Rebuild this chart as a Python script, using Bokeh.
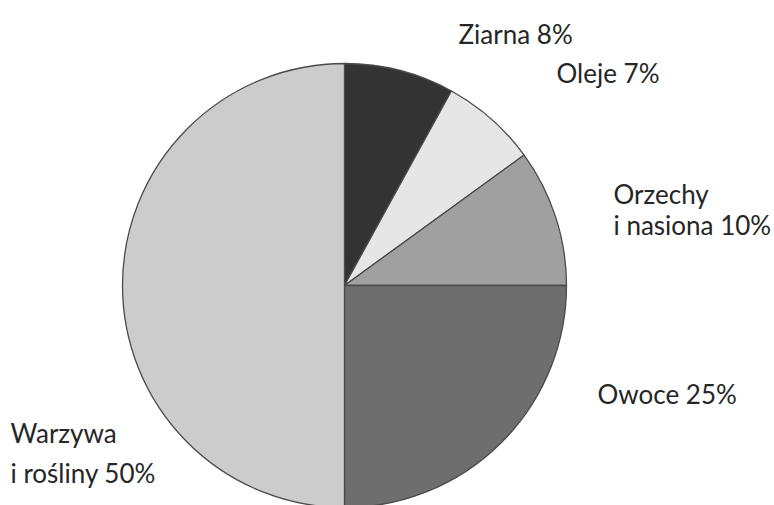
from math import pi
from bokeh.plotting import figure
from bokeh.models import Range1d, ColumnDataSource
from bokeh.core.properties import value
from bokeh.embed import file_html
from bokeh.resources import INLINE

# data
categories = ["Ziarna", "Oleje", "Orzechy i nasiona", "Owoce", "Warzywa i rośliny"]
percents = [8, 7, 10, 25, 50]
colors = ["#333333", "#e6e6e6", "#a0a0a0", "#6e6e6e", "#cccccc"]

W, H = 774, 505
p = figure(width=W, height=H, output_backend="svg", toolbar_location=None,
           x_range=Range1d(0, W), y_range=Range1d(505 - H, 505),
           min_border=0, outline_line_color=None)
p.axis.visible = False
p.grid.visible = False
p.background_fill_color = "white"
p.border_fill_color = "white"

# wedges: start at top, clockwise
starts, ends = [], []
a = pi / 2
for v in percents:
    starts.append(a)
    a = a - v / 100 * 2 * pi
    ends.append(a)
src = ColumnDataSource(dict(cat=categories, pct=percents, color=colors,
                            start=starts, end=ends))
cx, cy, r = 344, 505 - 285, 222
p.wedge(x=cx, y=cy, radius=r, start_angle="start", end_angle="end",
        direction="clock", fill_color="color", line_color="#4a4a4a",
        line_width=1.3, source=src)

# labels (layout: text lines and their positions)
label_lines = {
    "Ziarna": [(458, 33)],
    "Oleje": [(556, 72)],
    "Orzechy i nasiona": [(613, 193), (613, 224)],
    "Owoce": [(597, 393)],
    "Warzywa i rośliny": [(10, 432), (10, 472)],
}
breaks = {"Orzechy i nasiona": ["Orzechy", "i nasiona"],
          "Warzywa i rośliny": ["Warzywa", "i rośliny"]}
xs, ys, ts = [], [], []
for c, v in zip(categories, percents):
    lines = breaks.get(c, [c])
    lines = lines[:-1] + [f"{lines[-1]} {v}%"]
    for (lx, ly), t in zip(label_lines[c], lines):
        xs.append(lx)
        ys.append(505 - ly)
        ts.append(t)
p.text(x=xs, y=ys, text=ts, text_font=value("Lato"), text_font_size="26px",
       text_color="#262626", text_align="left", text_baseline="alphabetic")

open("out.html", "w").write(file_html(p, INLINE))
